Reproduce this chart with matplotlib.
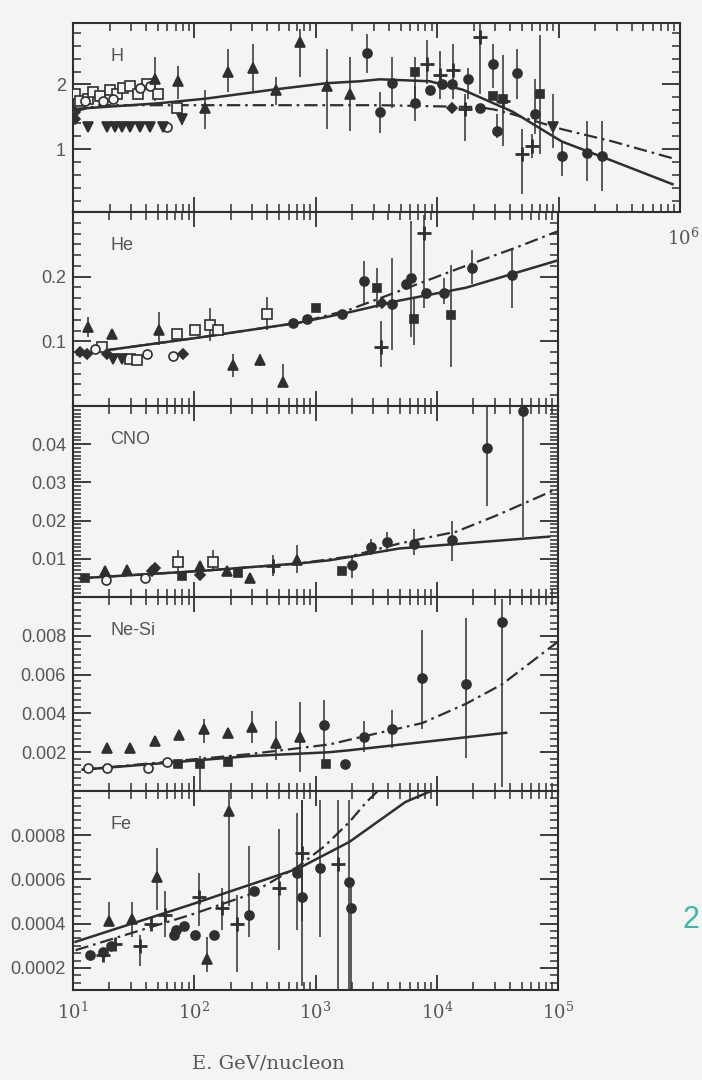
import numpy as np
import matplotlib.pyplot as plt
from matplotlib.ticker import LogLocator, MultipleLocator, AutoMinorLocator, NullFormatter

plt.rcParams['font.family'] = ['Liberation Sans', 'DejaVu Sans']
plt.rcParams['mathtext.fontset'] = 'dejavuserif'

INK = '#2f2f2f'
PAPER = '#f4f4f2'
TXT = '#555555'

# ---- H ----  points are (E, value) or (E, value, err_lo, err_hi)
h_solid_E = [10, 51, 122, 443, 1232, 2303, 3363, 8673, 16200, 41800, 106000, 278000, 867000]
h_solid_v = [1.62, 1.71, 1.78, 1.92, 2.02, 2.05, 2.08, 2.05, 1.92, 1.58, 1.12, 0.82, 0.46]
h_dash_E = [10, 16.7, 3363, 22400, 30000, 41800, 106000, 278000, 867000]
h_dash_v = [1.58, 1.68, 1.68, 1.65, 1.61, 1.54, 1.31, 1.12, 0.86]

h_open_sq = [(10.4, 1.85), (11.4, 1.74), (13.3, 1.78), (14.6, 1.89), (16.7, 1.82), (20.2, 1.92),
             (23.0, 1.86), (25.8, 1.94), (29.4, 1.97), (34.3, 1.85), (40.6, 2.0), (50.1, 1.85),
             (71.8, 1.63)]
h_open_ci = [(12.6, 1.74), (17.7, 1.74), (21.3, 1.78), (35.6, 1.94), (43.0, 1.97), (59.4, 1.35)]
h_inv_tri = [(13.3, 1.35, 1.3, 1.42), (19.0, 1.35, 1.3, 1.42), (22.2, 1.35, 1.3, 1.42),
             (25.3, 1.35, 1.3, 1.42), (29.4, 1.35, 1.3, 1.42), (35.6, 1.35, 1.3, 1.42),
             (43.0, 1.35, 1.3, 1.42), (55.1, 1.35, 1.3, 1.42), (78.9, 1.46, 1.38, 1.55),
             (89300, 1.35, 1.02, 1.85)]
h_tri = [(47.3, 2.09, 1.74, 2.43), (73.1, 2.05, 1.78, 2.28), (122, 1.63, 1.31, 1.92),
         (189, 2.2, 1.89, 2.55), (303, 2.25, 1.89, 2.63), (469, 1.92, 1.69, 2.12),
         (738, 2.66, 2.12, 2.85), (1232, 1.97, 1.32, 2.55), (1905, 1.86, 1.28, 2.43)]
h_diam = [(10.4, 1.58), (10.4, 1.46), (13160, 1.63)]
h_circ = [(2630, 2.48, 2.17, 2.78), (3363, 1.58, 1.25, 1.89), (4225, 2.02, 1.63, 2.43),
          (6528, 1.71, 1.43, 1.97), (8673, 1.92), (10890, 2.0), (13160, 2.0),
          (17820, 2.08, 1.78, 2.25), (22380, 1.63), (28640, 2.32, 1.94, 2.62),
          (30900, 1.28, 1.17, 1.54), (45110, 2.17, 1.78, 2.55), (63460, 1.55, 1.23, 2.09),
          (105900, 0.89, 0.58, 1.12), (170000, 0.94, 0.51, 1.43), (225800, 0.89, 0.35, 1.43)]
h_sq = [(6528, 2.2, 1.74, 2.43), (28640, 1.82), (34610, 1.77), (69790, 1.85, 0.92, 2.77)]
h_cross = [(8200, 2.31, 2.0, 2.69), (10490, 2.15, 1.78, 2.51), (13420, 2.23, 1.78, 2.62),
           (16830, 1.62, 1.12, 1.85), (22380, 2.74, 1.85, 2.97), (34610, 1.74, 1.05, 2.46),
           (49560, 0.92, 0.31, 1.32), (59980, 1.05, 0.86, 1.23)]

# ---- He ----
he_solid_E = [10.8, 111, 738, 1905, 4911, 17490, 45110, 99000]
he_solid_v = [0.08, 0.106, 0.129, 0.145, 0.163, 0.183, 0.206, 0.225]
he_dash_E = [10.8, 111, 738, 1905, 3560, 17490, 45110, 99000]
he_dash_v = [0.08, 0.106, 0.129, 0.149, 0.168, 0.217, 0.245, 0.27]

he_tri = [(13.3, 0.122, 0.106, 0.137), (20.9, 0.111), (51.0, 0.118, 0.095, 0.145),
          (207, 0.063, 0.045, 0.08), (346, 0.071, 0.062, 0.08), (535, 0.037, 0.029, 0.065)]
he_open_sq = [(17.3, 0.091), (29.4, 0.072), (33.6, 0.071), (71.8, 0.111), (101, 0.117),
              (134, 0.125, 0.1, 0.152), (156, 0.117), (395, 0.142, 0.117, 0.168)]
he_open_ci = [(15.2, 0.088), (40.6, 0.08), (66.5, 0.077)]
he_inv_tri = [(21.3, 0.072), (25.3, 0.072)]
he_diam = [(11.4, 0.083), (13.1, 0.08), (19.0, 0.08), (80.4, 0.08), (3560, 0.16)]
he_circ = [(647, 0.129), (843, 0.134), (1667, 0.142), (2531, 0.194, 0.157, 0.225),
           (4306, 0.157, 0.086, 0.229), (5610, 0.188), (6166, 0.198, 0.106, 0.286),
           (8200, 0.175), (11530, 0.175, 0.157, 0.198), (19590, 0.214, 0.188, 0.242),
           (41790, 0.202, 0.152, 0.245)]
he_sq = [(1019, 0.152), (3237, 0.183, 0.152, 0.214), (6528, 0.134, 0.094, 0.168),
         (13160, 0.14, 0.06, 0.218)]
he_cross = [(3493, 0.091, 0.06, 0.132), (7895, 0.268, 0.152, 0.295)]

# ---- CNO ----
cno_solid_E = [11.3, 111, 738, 1303, 4911, 84300]
cno_solid_v = [0.0049, 0.0068, 0.0088, 0.0096, 0.0127, 0.0158]
cno_dash_E = [11.3, 111, 738, 1905, 4911, 14460, 30900, 98000]
cno_dash_v = [0.0049, 0.0068, 0.0088, 0.0106, 0.014, 0.0171, 0.0213, 0.0283]

cno_sq = [(12.6, 0.0049), (78.9, 0.0055), (228, 0.0062), (1667, 0.0068)]
cno_tri = [(18.3, 0.0068), (27.8, 0.007), (111, 0.008), (185, 0.0068), (286, 0.0049),
           (698, 0.0096, 0.0062, 0.0135)]
cno_open_ci = [(18.7, 0.0044), (39.1, 0.0049)]
cno_diam = [(44.7, 0.0068), (47.3, 0.0075), (111, 0.0057)]
cno_open_sq = [(73.1, 0.0091, 0.0068, 0.0122), (142, 0.0091, 0.007, 0.0122)]
cno_cross = [(443, 0.008, 0.0055, 0.0109)]
cno_circ = [(2018, 0.0083, 0.0049, 0.0109), (2891, 0.013, 0.0109, 0.0153),
            (3914, 0.0145, 0.0119, 0.0171), (6528, 0.014, 0.0109, 0.0179),
            (13420, 0.0148, 0.0094, 0.02), (26040, 0.039, 0.0239, 0.0512),
            (51520, 0.0486, 0.0158, 0.055)]

# ---- Ne-Si ----
nesi_solid_E = [12, 286, 1303, 1905, 37350]
nesi_solid_v = [0.0011, 0.0018, 0.002, 0.0021, 0.003]
nesi_dash_E = [12, 286, 1303, 2439, 7600, 17490, 34610, 100000]
nesi_dash_v = [0.0011, 0.0019, 0.0024, 0.0028, 0.0035, 0.0045, 0.0055, 0.0077]

nesi_tri = [(19.0, 0.0022), (29.4, 0.0022), (47.3, 0.0026), (74.5, 0.0029),
            (120, 0.0032, 0.0025, 0.0037), (189, 0.003), (297, 0.0033, 0.0025, 0.0041),
            (469, 0.0025, 0.0016, 0.0036), (738, 0.0028, 0.001, 0.0046)]
nesi_open_ci = [(13.3, 0.0012), (19.0, 0.0012), (41.4, 0.0012), (59.4, 0.0015)]
nesi_sq = [(73.1, 0.0014), (111, 0.0014, 0.0, 0.0018), (189, 0.0015), (1232, 0.0014)]
nesi_circ = [(1186, 0.0034, 0.0012, 0.0047), (1766, 0.0014), (2531, 0.0028, 0.002, 0.0036),
             (4306, 0.0032, 0.0022, 0.0042), (7600, 0.0058, 0.0032, 0.0083),
             (17490, 0.0055, 0.0017, 0.0089), (34610, 0.0087, 0.0002, 0.0099)]

# ---- Fe ----
fe_solid_E = [10.5, 93.6, 725, 1905, 5505, 9900]
fe_solid_v = [0.000318, 0.000486, 0.00065, 0.00077, 0.00095, 0.00101]
fe_dash_E = [10.5, 93.6, 281, 725, 1186, 1905, 2630, 3560]
fe_dash_v = [0.00028, 0.00044, 0.00053, 0.00066, 0.00075, 0.00086, 0.00095, 0.00102]

fe_tri = [(19.8, 0.00041, 0.00039, 0.0005), (30.6, 0.00042, 0.00034, 0.0005),
          (49.1, 0.00061, 0.00046, 0.00074), (127, 0.00024, 0.00018, 0.00034),
          (192, 0.00091, 0.00048, 0.00105)]
fe_cross = [(17.7, 0.00026), (22.2, 0.00031), (35.6, 0.0003, 0.00021, 0.00035), (43.9, 0.0004),
            (57.2, 0.00044, 0.00034, 0.00055), (109, 0.00052, 0.00039, 0.00063),
            (168, 0.00047, 0.00037, 0.00056), (224, 0.0004, 0.00018, 0.00053),
            (496, 0.00056, 0.00028, 0.00083), (767, 0.00072, 0.00041, 0.00096),
            (1545, 0.00067, 0.0001, 0.00096)]
fe_circ = [(13.8, 0.00026), (17.7, 0.00027), (20.5, 0.0003), (67.8, 0.00035), (70.4, 0.00037),
           (82.0, 0.00039), (101, 0.00035), (145, 0.00035), (281, 0.00044, 0.00034, 0.00075),
           (309, 0.00055), (698, 0.00063, 0.00037, 0.0009), (767, 0.00052, 0.00012, 0.00096),
           (1099, 0.00065, 0.00034, 0.00096), (1905, 0.00059, 0.0001, 0.00096),
           (1977, 0.00047, 0.0001, 0.00059)]


def draw(ax, pts, marker, hollow=False, ms=6.5):
    E = [p[0] for p in pts]
    v = [p[1] for p in pts]
    bars = [p for p in pts if len(p) == 4]
    if bars:
        ax.vlines([b[0] for b in bars], [b[2] for b in bars], [b[3] for b in bars],
                  color=INK, lw=1.1, zorder=2)
    mew = 2.0 if marker == '+' else 1.2
    ax.plot(E, v, ls='none', marker=marker, ms=ms, mfc=PAPER if hollow else INK,
            mec=INK, mew=mew, zorder=3)


def curves(ax, sE, sv, dE, dv):
    ax.plot(sE, sv, color=INK, lw=1.8, zorder=2)
    ax.plot(dE, dv, color=INK, lw=1.6, ls=(0, (6, 2.2, 1.2, 2.2)), zorder=2)


fig = plt.figure(figsize=(7.02, 10.8), dpi=100, facecolor=PAPER)
W, H = 702.0, 1080.0
x0 = 73


def panel(top, bot, right, xmax):
    ax = fig.add_axes([x0 / W, 1 - bot / H, (right - x0) / W, (bot - top) / H])
    ax.set_facecolor(PAPER)
    ax.set_xscale('log')
    ax.set_xlim(10, xmax)
    ax.xaxis.set_major_locator(LogLocator(base=10))
    ax.xaxis.set_minor_locator(LogLocator(base=10, subs=np.arange(2, 10)))
    ax.xaxis.set_minor_formatter(NullFormatter())
    ax.tick_params(which='both', direction='in', top=True, right=True, color=INK,
                   labelbottom=False, labelcolor=TXT, labelsize=13, pad=5)
    ax.tick_params(axis='x', which='major', length=11, width=1.3)
    ax.tick_params(axis='x', which='minor', length=6, width=1.1)
    ax.tick_params(axis='y', which='major', length=13, width=1.3)
    ax.tick_params(axis='y', which='minor', length=6, width=1.1)
    for s in ax.spines.values():
        s.set_linewidth(1.5)
        s.set_color(INK)
    return ax


def name(ax, label):
    ax.annotate(label, xy=(0, 1), xycoords='axes fraction', xytext=(27, -24),
                textcoords='offset points', ha='left', va='center', fontsize=13, color=TXT)


# H
ax = panel(23, 212, 680, 1e6)
ax.set_ylim(0.03, 2.95)
ax.set_yticks([1, 2], labels=['1', '2'])
ax.yaxis.set_minor_locator(MultipleLocator(0.2))
curves(ax, h_solid_E, h_solid_v, h_dash_E, h_dash_v)
draw(ax, h_open_sq, 's', hollow=True)
draw(ax, h_open_ci, 'o', hollow=True)
draw(ax, h_inv_tri, 'v')
draw(ax, h_tri, '^')
draw(ax, h_diam, 'D', ms=5)
draw(ax, h_circ, 'o')
draw(ax, h_sq, 's', ms=6)
draw(ax, h_cross, '+', ms=10)
name(ax, 'H')

# He
ax = panel(212, 406, 558, 1e5)
ax.set_ylim(0, 0.3)
ax.set_yticks([0.1, 0.2], labels=['0.1', '0.2'])
ax.yaxis.set_minor_locator(AutoMinorLocator(6))
curves(ax, he_solid_E, he_solid_v, he_dash_E, he_dash_v)
draw(ax, he_tri, '^')
draw(ax, he_open_sq, 's', hollow=True)
draw(ax, he_open_ci, 'o', hollow=True)
draw(ax, he_inv_tri, 'v')
draw(ax, he_diam, 'D', ms=5)
draw(ax, he_circ, 'o')
draw(ax, he_sq, 's', ms=6)
draw(ax, he_cross, '+', ms=10)
name(ax, 'He')

# CNO
ax = panel(406, 597, 558, 1e5)
ax.set_ylim(0, 0.05)
ax.set_yticks([0.01, 0.02, 0.03, 0.04], labels=['0.01', '0.02', '0.03', '0.04'])
ax.yaxis.set_minor_locator(AutoMinorLocator(10))
curves(ax, cno_solid_E, cno_solid_v, cno_dash_E, cno_dash_v)
draw(ax, cno_sq, 's', ms=6)
draw(ax, cno_tri, '^')
draw(ax, cno_open_ci, 'o', hollow=True)
draw(ax, cno_diam, 'D', ms=5)
draw(ax, cno_open_sq, 's', hollow=True)
draw(ax, cno_cross, '+', ms=10)
draw(ax, cno_circ, 'o')
name(ax, 'CNO')

# Ne-Si
ax = panel(597, 791, 558, 1e5)
ax.set_ylim(0, 0.01)
ax.set_yticks([0.002, 0.004, 0.006, 0.008], labels=['0.002', '0.004', '0.006', '0.008'])
ax.yaxis.set_minor_locator(AutoMinorLocator(6))
curves(ax, nesi_solid_E, nesi_solid_v, nesi_dash_E, nesi_dash_v)
draw(ax, nesi_tri, '^')
draw(ax, nesi_open_ci, 'o', hollow=True)
draw(ax, nesi_sq, 's', ms=6)
draw(ax, nesi_circ, 'o')
name(ax, 'Ne-Si')

# Fe
ax = panel(791, 990, 558, 1e5)
ax.set_ylim(0.0001, 0.001)
ax.set_yticks([0.0002, 0.0004, 0.0006, 0.0008],
              labels=['0.0002', '0.0004', '0.0006', '0.0008'])
ax.yaxis.set_minor_locator(AutoMinorLocator(6))
curves(ax, fe_solid_E, fe_solid_v, fe_dash_E, fe_dash_v)
draw(ax, fe_tri, '^')
draw(ax, fe_cross, '+', ms=10)
draw(ax, fe_circ, 'o')
name(ax, 'Fe')
ax.set_xticks([1e1, 1e2, 1e3, 1e4, 1e5],
              labels=[r'$10^{1}$', r'$10^{2}$', r'$10^{3}$', r'$10^{4}$', r'$10^{5}$'])
ax.tick_params(axis='x', which='major', labelbottom=True, labelsize=13, pad=8)

fig.text(683 / W, 1 - 238 / H, r'$10^{6}$', ha='center', va='center', fontsize=13, color=TXT)
fig.text(268 / W, 1 - 1063 / H, 'E. GeV/nucleon', ha='center', va='center',
         fontsize=14, color=TXT, family='DejaVu Serif')
# stray page digit at the right margin
fig.text(683 / W, 1 - 920 / H, '2', ha='left', va='center', fontsize=22,
         color='#3cb9ad')

fig.savefig('out.png', dpi=100, facecolor=PAPER)
